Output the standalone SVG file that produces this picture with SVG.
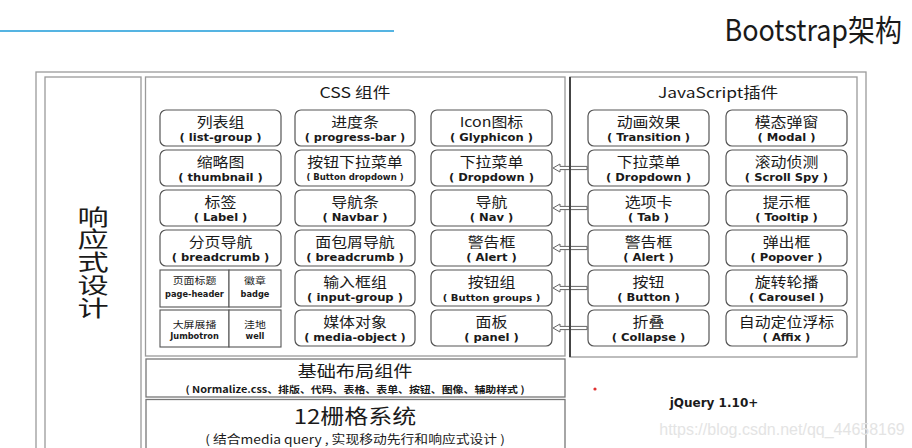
<svg xmlns="http://www.w3.org/2000/svg" xmlns:xlink="http://www.w3.org/1999/xlink" width="912" height="448" viewBox="0 0 912 448">
<style>
text{font-family:"Noto Sans CJK SC","Noto Sans",sans-serif;fill:#1a1a1a;text-anchor:middle}
.box{fill:#fff;stroke:#555;stroke-width:1.2}
.sq{fill:#fff;stroke:#555;stroke-width:1.1}
.frame{fill:#fff;stroke:#9a9a9a;stroke-width:1.3}
.zh{font-size:13.5px}
.en{font-family:"DejaVu Sans",Verdana,sans-serif;font-size:10.5px;font-weight:bold}
.ens{font-family:"DejaVu Sans",Verdana,sans-serif;font-size:8.5px;font-weight:bold}
.enm{font-family:"DejaVu Sans",Verdana,sans-serif;font-size:9.5px;font-weight:bold}
.sz{font-size:9.5px}
.se{font-family:"DejaVu Sans",Verdana,sans-serif;font-size:8px;font-weight:bold}
.ttl{font-size:14.5px}
.arr{fill:#fff;stroke:#666;stroke-width:1}
</style>
<defs>
<path id="arrow" d="M553,0 L560,-4 L560,-1.6 L587,-1.6 L587,1.6 L560,1.6 L560,4 Z"/>
</defs>
<rect width="912" height="448" fill="#fff"/>
<line x1="0" y1="31" x2="394" y2="31" stroke="#55b4e2" stroke-width="2"/>
<text transform="translate(902,41) scale(0.9,1)" font-size="30" style="text-anchor:end">Bootstrap架构</text>

<g id="outer"><rect class="frame" x="36" y="72" width="830" height="390"/></g>
<g id="responsive">
<rect class="frame" x="45" y="77" width="96" height="385"/>
<text transform="matrix(1.2,0,0,0.85,93,225)" font-size="26">响</text>
<text transform="matrix(1.2,0,0,0.85,93,247)" font-size="26">应</text>
<text transform="matrix(1.2,0,0,0.85,93,269.5)" font-size="26">式</text>
<text transform="matrix(1.2,0,0,0.85,93,292.5)" font-size="26">设</text>
<text transform="matrix(1.2,0,0,0.85,93,316)" font-size="26">计</text>
</g>
<g id="css">
<rect class="frame" x="145.5" y="77" width="419.5" height="279"/>
<text class="ttl" transform="translate(355,98) scale(1.22,1)">CSS 组件</text>
</g>
<g id="js">
<rect class="frame" x="570" y="77" width="287" height="280"/>
<line x1="570" y1="77" x2="570" y2="357" stroke="#444" stroke-width="2"/>
<text class="ttl" transform="translate(718,98) scale(1.2,1)">JavaScript插件</text>
</g>

<g id="connectors">
<use xlink:href="#arrow" class="arr" transform="translate(0,168)"/>
<use xlink:href="#arrow" class="arr" transform="translate(0,208)"/>
<use xlink:href="#arrow" class="arr" transform="translate(0,248)"/>
<use xlink:href="#arrow" class="arr" transform="translate(0,288)"/>
<use xlink:href="#arrow" class="arr" transform="translate(0,328)"/>
<line x1="570" y1="160" x2="570" y2="336" stroke="#444" stroke-width="2"/>
</g>

<!-- CSS column 1 -->
<g id="list-group" transform="translate(160,110)"><rect class="box" width="121" height="36" rx="6"/><text class="zh" transform="translate(60.5,16.5) scale(1.18,1)">列表组</text><text class="en" transform="translate(60.5,30.5) scale(1.1,1)">( list-group )</text></g>
<g id="thumbnail" transform="translate(160,150)"><rect class="box" width="121" height="36" rx="6"/><text class="zh" transform="translate(60.5,16.5) scale(1.18,1)">缩略图</text><text class="en" transform="translate(60.5,30.5) scale(1.1,1)">( thumbnail )</text></g>
<g id="label" transform="translate(160,190)"><rect class="box" width="121" height="36" rx="6"/><text class="zh" transform="translate(60.5,16.5) scale(1.18,1)">标签</text><text class="en" transform="translate(60.5,30.5) scale(1.1,1)">( Label )</text></g>
<g id="pagination" transform="translate(160,230)"><rect class="box" width="121" height="36" rx="6"/><text class="zh" transform="translate(60.5,16.5) scale(1.18,1)">分页导航</text><text class="en" transform="translate(60.5,30.5) scale(1.1,1)">( breadcrumb )</text></g>
<g id="page-header" transform="translate(160,270)"><rect class="sq" width="69" height="37"/><text class="sz" transform="translate(34.5,14) scale(1.15,1)">页面标题</text><text class="se" transform="translate(34.5,27) scale(1.03,1)">page-header</text></g>
<g id="badge" transform="translate(229,270)"><rect class="sq" width="52" height="37"/><text class="sz" transform="translate(26,14) scale(1.15,1)">徽章</text><text class="se" transform="translate(26,27) scale(1.03,1)">badge</text></g>
<g id="jumbotron" transform="translate(160,310)"><rect class="sq" width="69" height="37"/><text class="sz" transform="translate(34.5,17.5) scale(1.15,1)">大屏展播</text><text class="se" transform="translate(34.5,28.5) scale(1.03,1)">Jumbotron</text></g>
<g id="well" transform="translate(229,310)"><rect class="sq" width="52" height="37"/><text class="sz" transform="translate(26,17.5) scale(1.15,1)">洼地</text><text class="se" transform="translate(26,28.5) scale(1.03,1)">well</text></g>

<!-- CSS column 2 -->
<g id="progress-bar" transform="translate(295,110)"><rect class="box" width="120" height="36" rx="6"/><text class="zh" transform="translate(60,16.5) scale(1.18,1)">进度条</text><text class="en" transform="translate(60,30.5) scale(1.08,1)">( progress-bar )</text></g>
<g id="button-dropdown" transform="translate(295,150)"><rect class="box" width="120" height="36" rx="6"/><text class="zh" transform="translate(60,16.5) scale(1.18,1)">按钮下拉菜单</text><text class="ens" transform="translate(60,30) scale(1,1)">( Button dropdown )</text></g>
<g id="navbar" transform="translate(295,190)"><rect class="box" width="120" height="36" rx="6"/><text class="zh" transform="translate(60,16.5) scale(1.18,1)">导航条</text><text class="en" transform="translate(60,30.5) scale(1.1,1)">( Navbar )</text></g>
<g id="breadcrumb" transform="translate(295,230)"><rect class="box" width="120" height="36" rx="6"/><text class="zh" transform="translate(60,16.5) scale(1.18,1)">面包屑导航</text><text class="en" transform="translate(60,30.5) scale(1.1,1)">( breadcrumb )</text></g>
<g id="input-group" transform="translate(295,270)"><rect class="box" width="120" height="36" rx="6"/><text class="zh" transform="translate(60,16.5) scale(1.18,1)">输入框组</text><text class="en" transform="translate(60,30.5) scale(1.1,1)">( input-group )</text></g>
<g id="media-object" transform="translate(295,310)"><rect class="box" width="120" height="36" rx="6"/><text class="zh" transform="translate(60,16.5) scale(1.18,1)">媒体对象</text><text class="en" transform="translate(60,30.5) scale(1.08,1)">( media-object )</text></g>

<!-- CSS column 3 -->
<g id="glyphicon" transform="translate(431,110)"><rect class="box" width="121" height="36" rx="6"/><text class="zh" transform="translate(60.5,16.5) scale(1.18,1)">Icon图标</text><text class="en" transform="translate(60.5,30.5) scale(1.1,1)">( Glyphicon )</text></g>
<g id="css-dropdown" transform="translate(431,150)"><rect class="box" width="121" height="36" rx="6"/><text class="zh" transform="translate(60.5,16.5) scale(1.18,1)">下拉菜单</text><text class="en" transform="translate(60.5,30.5) scale(1.1,1)">( Dropdown )</text></g>
<g id="nav" transform="translate(431,190)"><rect class="box" width="121" height="36" rx="6"/><text class="zh" transform="translate(60.5,16.5) scale(1.18,1)">导航</text><text class="en" transform="translate(60.5,30.5) scale(1.1,1)">( Nav )</text></g>
<g id="css-alert" transform="translate(431,230)"><rect class="box" width="121" height="36" rx="6"/><text class="zh" transform="translate(60.5,16.5) scale(1.18,1)">警告框</text><text class="en" transform="translate(60.5,30.5) scale(1.1,1)">( Alert )</text></g>
<g id="button-groups" transform="translate(431,270)"><rect class="box" width="121" height="36" rx="6"/><text class="zh" transform="translate(60.5,16.5) scale(1.18,1)">按钮组</text><text class="enm" transform="translate(60.5,30.5) scale(1.06,1)">( Button groups )</text></g>
<g id="panel" transform="translate(431,310)"><rect class="box" width="121" height="36" rx="6"/><text class="zh" transform="translate(60.5,16.5) scale(1.18,1)">面板</text><text class="en" transform="translate(60.5,30.5) scale(1.1,1)">( panel )</text></g>

<!-- JS column 1 -->
<g id="transition" transform="translate(588,110)"><rect class="box" width="121" height="36" rx="6"/><text class="zh" transform="translate(60.5,16.5) scale(1.18,1)">动画效果</text><text class="en" transform="translate(60.5,30.5) scale(1.1,1)">( Transition )</text></g>
<g id="js-dropdown" transform="translate(588,150)"><rect class="box" width="121" height="36" rx="6"/><text class="zh" transform="translate(60.5,16.5) scale(1.18,1)">下拉菜单</text><text class="en" transform="translate(60.5,30.5) scale(1.1,1)">( Dropdown )</text></g>
<g id="tab" transform="translate(588,190)"><rect class="box" width="121" height="36" rx="6"/><text class="zh" transform="translate(60.5,16.5) scale(1.18,1)">选项卡</text><text class="en" transform="translate(60.5,30.5) scale(1.1,1)">( Tab )</text></g>
<g id="js-alert" transform="translate(588,230)"><rect class="box" width="121" height="36" rx="6"/><text class="zh" transform="translate(60.5,16.5) scale(1.18,1)">警告框</text><text class="en" transform="translate(60.5,30.5) scale(1.1,1)">( Alert )</text></g>
<g id="button" transform="translate(588,270)"><rect class="box" width="121" height="36" rx="6"/><text class="zh" transform="translate(60.5,16.5) scale(1.18,1)">按钮</text><text class="en" transform="translate(60.5,30.5) scale(1.1,1)">( Button )</text></g>
<g id="collapse" transform="translate(588,310)"><rect class="box" width="121" height="36" rx="6"/><text class="zh" transform="translate(60.5,16.5) scale(1.18,1)">折叠</text><text class="en" transform="translate(60.5,30.5) scale(1.1,1)">( Collapse )</text></g>

<!-- JS column 2 -->
<g id="modal" transform="translate(726,110)"><rect class="box" width="121" height="36" rx="6"/><text class="zh" transform="translate(60.5,16.5) scale(1.18,1)">模态弹窗</text><text class="en" transform="translate(60.5,30.5) scale(1.1,1)">( Modal )</text></g>
<g id="scrollspy" transform="translate(726,150)"><rect class="box" width="121" height="36" rx="6"/><text class="zh" transform="translate(60.5,16.5) scale(1.18,1)">滚动侦测</text><text class="en" transform="translate(60.5,30.5) scale(1.1,1)">( Scroll Spy )</text></g>
<g id="tooltip" transform="translate(726,190)"><rect class="box" width="121" height="36" rx="6"/><text class="zh" transform="translate(60.5,16.5) scale(1.18,1)">提示框</text><text class="en" transform="translate(60.5,30.5) scale(1.1,1)">( Tooltip )</text></g>
<g id="popover" transform="translate(726,230)"><rect class="box" width="121" height="36" rx="6"/><text class="zh" transform="translate(60.5,16.5) scale(1.18,1)">弹出框</text><text class="en" transform="translate(60.5,30.5) scale(1.1,1)">( Popover )</text></g>
<g id="carousel" transform="translate(726,270)"><rect class="box" width="121" height="36" rx="6"/><text class="zh" transform="translate(60.5,16.5) scale(1.18,1)">旋转轮播</text><text class="en" transform="translate(60.5,30.5) scale(1.1,1)">( Carousel )</text></g>
<g id="affix" transform="translate(726,310)"><rect class="box" width="121" height="36" rx="6"/><text class="zh" transform="translate(60.5,16.5) scale(1.18,1)">自动定位浮标</text><text class="en" transform="translate(60.5,30.5) scale(1.1,1)">( Affix )</text></g>

<g id="base-layout">
<rect class="frame" x="146" y="359" width="419" height="38" style="stroke:#777"/>
<text transform="translate(355,377) scale(1.2,1)" font-size="16">基础布局组件</text>
<text transform="translate(355,393) scale(1.15,1)" font-size="9.5" font-weight="bold">( Normalize.css、排版、代码、表格、表单、按钮、图像、辅助样式 )</text>
</g>
<g id="grid-system">
<rect class="frame" x="146" y="399.5" width="419" height="60" style="stroke:#777"/>
<text transform="translate(355,423.5) scale(1.2,1)" font-size="20">12栅格系统</text>
<text transform="translate(355,443.5) scale(1.15,1)" font-size="12">( 结合media query , 实现移动先行和响应式设计 )</text>
</g>
<g id="jquery">
<text x="714" y="407" font-size="12" font-weight="bold" style="font-family:'DejaVu Sans',Verdana,sans-serif">jQuery 1.10+</text>
</g>
<circle cx="595" cy="389" r="1.6" fill="#e03030"/>
<text x="782" y="435" font-size="16" style="font-family:'Liberation Sans',sans-serif;fill:#e4e4e4">https://blog.csdn.net/qq_44658169</text>
</svg>
